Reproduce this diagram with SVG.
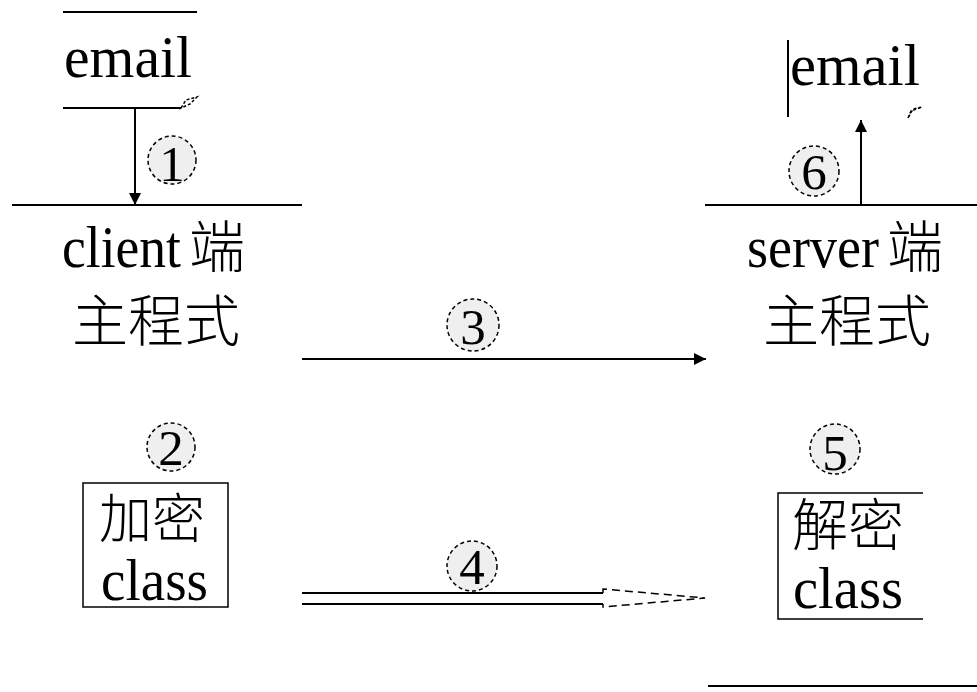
<svg xmlns="http://www.w3.org/2000/svg" width="977" height="692" viewBox="0 0 977 692">
<defs>
<style>
.t{font-family:"Liberation Serif","Noto Sans CJK TC",serif;font-size:59px;fill:#000}
.k{font-family:"Noto Sans CJK TC","Noto Sans CJK SC",sans-serif;font-size:56px;fill:#000;font-weight:300}
.n{font-family:"Liberation Serif",serif;font-size:51px;fill:#000;text-anchor:middle}
.c{fill:#efefef;stroke:#000;stroke-width:1.5;stroke-dasharray:4 3}
.l{stroke:#000;stroke-width:2;fill:none}
.d{stroke:#000;stroke-width:1.5;fill:none;stroke-dasharray:8 5}
</style>
<marker id="ah" viewBox="0 0 10 10" refX="10" refY="5" markerWidth="12" markerHeight="12" markerUnits="userSpaceOnUse" orient="auto">
<path d="M0,0 L10,5 L0,10 z" fill="#000"/>
</marker>
</defs>
<rect width="977" height="692" fill="#fff"/>
<g id="email-client">
<line class="l" x1="63" y1="12" x2="197" y2="12"/>
<text class="t" x="64" y="77" textLength="128" lengthAdjust="spacingAndGlyphs">email</text>
<line class="l" x1="63" y1="108" x2="181" y2="108"/>
<path class="d" style="stroke-dasharray:3 2" d="M181,108 L186,100 L197,97 L190,104 Z"/>
</g>
<g id="client">
<line class="l" x1="12" y1="205" x2="302" y2="205"/>
<text class="t" x="62" y="267" textLength="119" lengthAdjust="spacingAndGlyphs">client</text>
<text class="k" x="189" y="267">端</text>
<text class="k" x="72" y="341">主程式</text>
</g>
<g id="encrypt">
<rect class="l" x="83" y="483" width="145" height="124" style="stroke-width:1.5"/>
<text class="k" x="99" y="538" style="font-size:53px">加密</text>
<text class="t" x="101" y="600" textLength="107" lengthAdjust="spacingAndGlyphs">class</text>
</g>
<g id="email-server">
<line class="l" x1="788" y1="40" x2="788" y2="117"/>
<text class="t" x="790" y="85" textLength="130" lengthAdjust="spacingAndGlyphs">email</text>
<path class="d" style="stroke-dasharray:3 2" d="M908,118 L911,111 L922,107 L913,109 Z"/>
</g>
<g id="server">
<line class="l" x1="705" y1="205" x2="977" y2="205"/>
<text class="t" x="747" y="267" textLength="132" lengthAdjust="spacingAndGlyphs">server</text>
<text class="k" x="887" y="267">端</text>
<text class="k" x="763" y="341">主程式</text>
</g>
<g id="decrypt">
<path class="l" style="stroke-width:1.5" d="M923,493 L778,493 L778,619 L923,619"/>
<text class="k" x="792" y="545">解密</text>
<text class="t" x="793" y="608" textLength="110" lengthAdjust="spacingAndGlyphs">class</text>
<line class="l" x1="708" y1="686" x2="977" y2="686"/>
</g>
<g id="connectors">
<line class="l" x1="135" y1="108" x2="135" y2="205" marker-end="url(#ah)"/>
<line class="l" x1="302" y1="359" x2="706" y2="359" marker-end="url(#ah)"/>
<line class="l" x1="861" y1="205" x2="861" y2="120" marker-end="url(#ah)"/>
<line class="l" x1="302" y1="593" x2="603" y2="593"/>
<line class="l" x1="302" y1="604" x2="603" y2="604"/>
<path class="d" d="M603,593 L603,589 L705,598 L603,607 L603,604"/>
</g>
<g id="labels">
<circle class="c" cx="172" cy="160" r="24"/>
<text class="n" x="172" y="181">1</text>
<circle class="c" cx="171" cy="447" r="24"/>
<text class="n" x="171" y="465">2</text>
<circle class="c" cx="473" cy="325" r="26"/>
<text class="n" x="473" y="344">3</text>
<circle class="c" cx="472" cy="566" r="25"/>
<text class="n" x="472" y="584">4</text>
<circle class="c" cx="835" cy="449" r="25"/>
<text class="n" x="835" y="470">5</text>
<circle class="c" cx="814" cy="171" r="25"/>
<text class="n" x="814" y="189">6</text>
</g>
</svg>
